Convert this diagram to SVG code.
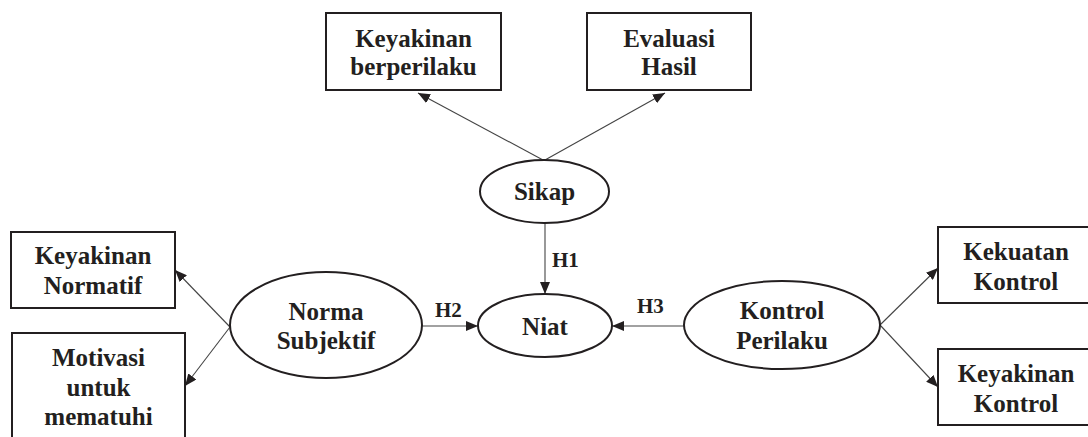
<svg xmlns="http://www.w3.org/2000/svg" width="1088" height="437" viewBox="0 0 1088 437" font-family="Liberation Serif, serif">
<defs>
<marker id="arr" markerUnits="userSpaceOnUse" markerWidth="12" markerHeight="10" refX="12" refY="5" orient="auto">
<path d="M0,0 L12,5 L0,10 Z" fill="#231f20"/>
</marker>
</defs>
<style>
.box{fill:#fff;stroke:#231f20;stroke-width:2}
.ell{fill:#fff;stroke:#231f20;stroke-width:2}
.t{font-weight:bold;font-size:25px;fill:#231f20;text-anchor:middle}
.h{font-weight:bold;font-size:21px;fill:#231f20}
.c{stroke:#444;stroke-width:1.1;fill:none;marker-end:url(#arr)}
</style>
<rect width="1088" height="437" fill="#fff"/>
<g id="connectors">
<line class="c" x1="543" y1="160" x2="418" y2="93"/>
<line class="c" x1="545" y1="160" x2="665" y2="93"/>
<line class="c" x1="545" y1="223" x2="545" y2="294"/>
<line class="c" x1="422" y1="326" x2="478" y2="326"/>
<line class="c" x1="684" y1="326" x2="612" y2="326"/>
<line class="c" x1="230" y1="327" x2="175" y2="270"/>
<line class="c" x1="230" y1="327" x2="185" y2="386"/>
<line class="c" x1="880" y1="325" x2="938" y2="268"/>
<line class="c" x1="880" y1="325" x2="938" y2="387"/>
<text class="h" x="552" y="267">H1</text>
<text class="h" x="435" y="317">H2</text>
<text class="h" x="637" y="313">H3</text>
</g>
<g id="keyakinan-berperilaku">
<rect class="box" x="326" y="13" width="175" height="77"/>
<text class="t" x="413.5" y="47">Keyakinan</text>
<text class="t" x="413.5" y="75">berperilaku</text>
</g>
<g id="evaluasi-hasil">
<rect class="box" x="587" y="13" width="164" height="77"/>
<text class="t" x="669" y="47">Evaluasi</text>
<text class="t" x="669" y="75">Hasil</text>
</g>
<g id="sikap">
<ellipse class="ell" cx="544.5" cy="191.5" rx="64.5" ry="31.5"/>
<text class="t" x="544.5" y="200">Sikap</text>
</g>
<g id="niat">
<ellipse class="ell" cx="545" cy="325.5" rx="67" ry="31.5"/>
<text class="t" x="545" y="335">Niat</text>
</g>
<g id="norma-subjektif">
<ellipse class="ell" cx="326" cy="325" rx="96" ry="53"/>
<text class="t" x="326" y="320">Norma</text>
<text class="t" x="326" y="349">Subjektif</text>
</g>
<g id="kontrol-perilaku">
<ellipse class="ell" cx="782" cy="325" rx="98" ry="44"/>
<text class="t" x="782" y="319">Kontrol</text>
<text class="t" x="782" y="349">Perilaku</text>
</g>
<g id="keyakinan-normatif">
<rect class="box" x="11" y="232" width="164" height="76"/>
<text class="t" x="93" y="264">Keyakinan</text>
<text class="t" x="93" y="294">Normatif</text>
</g>
<g id="motivasi-untuk-mematuhi">
<rect class="box" x="12" y="333" width="173" height="120"/>
<text class="t" x="98.5" y="366">Motivasi</text>
<text class="t" x="98.5" y="396">untuk</text>
<text class="t" x="98.5" y="425">mematuhi</text>
</g>
<g id="kekuatan-kontrol">
<rect class="box" x="938" y="227" width="160" height="76"/>
<text class="t" x="1016" y="260">Kekuatan</text>
<text class="t" x="1016" y="290">Kontrol</text>
</g>
<g id="keyakinan-kontrol">
<rect class="box" x="938" y="349" width="160" height="76"/>
<text class="t" x="1016" y="382">Keyakinan</text>
<text class="t" x="1016" y="412">Kontrol</text>
</g>
</svg>
